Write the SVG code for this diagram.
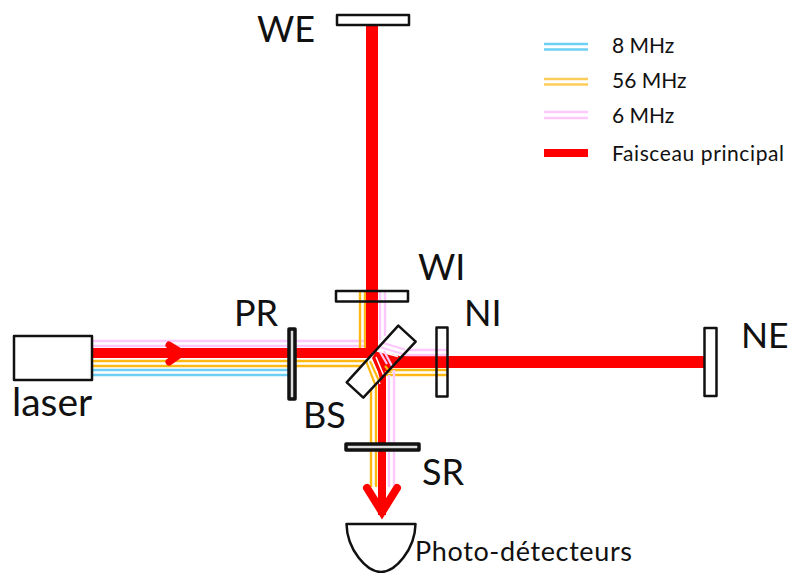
<svg xmlns="http://www.w3.org/2000/svg" width="789" height="573" viewBox="0 0 789 573">
<style>
text{font-family:"Lato","Carlito","Liberation Sans",sans-serif;fill:#111}
.lb{font-size:36px}
.lg{font-size:21px}
.el{fill:none;stroke:#111;stroke-width:2.5;stroke-linejoin:round}
.th{fill:#ddd;stroke:#111;stroke-width:3.5;stroke-linejoin:round}
.r{fill:none;stroke:#f00;stroke-linejoin:miter}
.o{fill:none;stroke:#fdb813;stroke-width:2.4}
.p{fill:none;stroke:#fdc8fb;stroke-width:2.4}
.b{fill:none;stroke:#6fd0f5;stroke-width:2.4}
</style>
<g id="connectors">
<path class="p" d="M92 341H365M92 346H365"/>
<path class="o" d="M92 361H366M92 366H364"/>
<path class="b" d="M92 370H289M92 375H289"/>
<path class="o" d="M360 291V348M365 291V348"/>
<path class="p" d="M380 291V340M385 291V336"/>
<path class="r" stroke-width="12" d="M372 26V352"/>
<path class="r" stroke-width="10" d="M92 353H372"/>
<path class="r" stroke-width="12" d="M378 362H705"/>
<path class="o" d="M384 370H447M384 375H447"/>
<path class="p" d="M405 350H448M405 355H448"/>
<path class="o" d="M371 385V487M376 385V487"/>
<path class="p" d="M389 375V487M394 370V487"/>
<path class="r" stroke-width="8" d="M382 375V515"/>
<path class="r" stroke-width="7" stroke-linecap="round" d="M169 345L182 353L169 362"/>
<path class="r" stroke-width="8" stroke-linecap="round" d="M367 488L382 512L397 488"/>
</g>
<g id="BS">
<polygon points="398.300,325.700 415.700,341.700 363.300,397.700 346.700,382.300" fill="#fff"/>
<polygon points="376,351 402,356.500 380,380 378,372 372,358" fill="#f00"/>
<path fill="none" stroke="#fff" stroke-width="1.500" d="M377 351L398 356.500M370 362L380 384M376 357L384 376"/>
<path fill="none" stroke="#fdc8fb" stroke-width="2.200" d="M383 343L405 349.500M381 347.500L403 354M380 352L387 364M384 351L392 366"/>
<path fill="none" stroke="#fdb813" stroke-width="2.200" d="M366 361L375 384M370 361L379 381M385 366L390 372L385 372"/>
<polygon class="el" points="398.300,325.700 415.700,341.700 363.300,397.700 346.700,382.300"/>
</g>
<g id="laser"><rect class="el" x="14" y="336" width="78" height="44" fill="#fff"/><text x="12" y="416" font-size="39">laser</text></g>
<g id="PR"><rect class="th" x="289" y="329" width="6" height="70"/><text class="lb" x="234" y="326">PR</text></g>
<g id="WI"><rect class="el" x="336" y="291" width="72" height="10.500"/><text class="lb" x="418" y="280">WI</text></g>
<g id="WE"><rect class="el" x="337" y="15" width="72" height="10"/><text class="lb" x="257" y="42">WE</text></g>
<g id="NI"><rect class="el" x="436.500" y="327.500" width="11" height="69"/><text class="lb" x="464" y="326">NI</text></g>
<g id="NE"><rect class="el" x="704.500" y="328" width="12" height="68"/><text x="741" y="348" font-size="35.500">NE</text></g>
<g id="SR"><rect class="th" x="346" y="444" width="73" height="6"/><text class="lb" x="422" y="485">SR</text></g>
<g id="BS-label"><text class="lb" x="303" y="428">BS</text></g>
<g id="detector"><path class="el" d="M346.500 524H415.500C415 550 395 572 381 572C367 572 347 550 346.500 524Z"/><text x="415" y="561" font-size="27" textLength="217">Photo-détecteurs</text></g>
<g id="legend">
<path class="b" d="M544 44H588M544 49.500H588"/>
<path class="o" opacity="0.7" d="M544 79H588M544 84.500H588"/>
<path class="p" d="M544 112H588M544 118H588"/>
<path class="r" stroke-width="8" d="M544 153H588"/>
<text class="lg" x="612" y="53">8 MHz</text>
<text class="lg" x="612" y="88">56 MHz</text>
<text class="lg" x="612" y="123">6 MHz</text>
<text class="lg" x="612" y="161" textLength="172">Faisceau principal</text>
</g>
</svg>
